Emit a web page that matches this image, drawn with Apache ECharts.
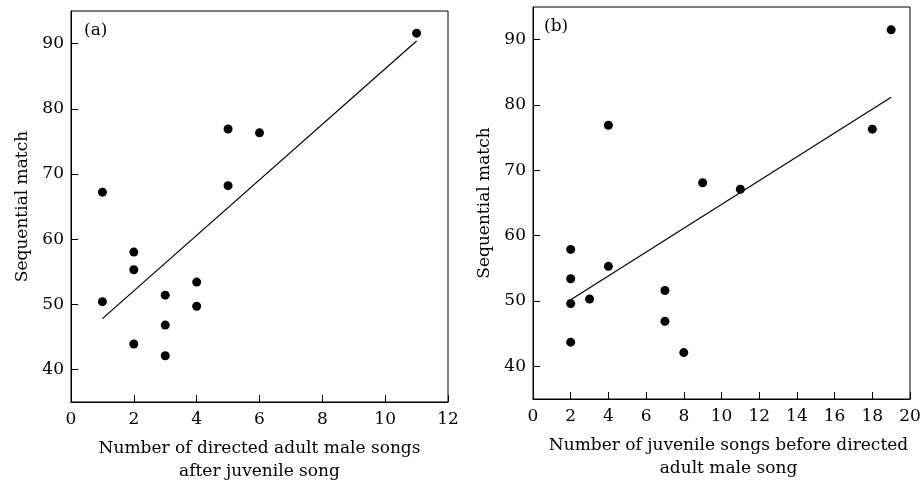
<!DOCTYPE html>
<html>
<head>
<meta charset="utf-8">
<script src="https://cdn.jsdelivr.net/npm/echarts@6/dist/echarts.min.js"></script>
<style>
  html, body { margin: 0; padding: 0; background: #fff; }
  #chart { width: 922px; height: 481px; }
</style>
</head>
<body>
<div id="chart"></div>
<script>
// panel (a): directed adult male songs after juvenile song vs sequential match
var pointsA = [
  [1, 67.2], [1, 50.4], [2, 58.0], [2, 55.3], [2, 43.9],
  [3, 51.4], [3, 46.8], [3, 42.1], [4, 53.4], [4, 49.7],
  [5, 76.9], [5, 68.2], [6, 76.3], [11, 91.6]
];
var fitA = [[1, 47.8], [11, 90.4]];

// panel (b): juvenile songs before directed adult male song
var pointsB = [
  [2, 57.9], [2, 53.4], [2, 49.6], [2, 43.7], [3, 50.3],
  [4, 76.9], [4, 55.3], [7, 51.6], [7, 46.9], [8, 42.1],
  [9, 68.1], [11, 67.1], [18, 76.3], [19, 91.5]
];
var fitB = [[2, 50.2], [19, 81.2]];

var yTicks = [40, 50, 60, 70, 80, 90];
var yRange = [35, 95];
var xRangeA = [0, 12];
var xRangeB = [0, 20];

var ink = '#000';
var font = 'DejaVu Serif';

function xAxisFor(idx, range, name, pad) {
  return {
    gridIndex: idx,
    type: 'value',
    min: range[0],
    max: range[1],
    interval: 2,
    name: name,
    nameLocation: 'middle',
    nameGap: 35,
    nameTextStyle: { color: ink, fontFamily: font, fontSize: 17, lineHeight: 23, padding: pad },
    axisLine: { show: true, lineStyle: { color: ink, width: 1 } },
    axisTick: { show: true, inside: true, length: 7, lineStyle: { color: ink } },
    axisLabel: { color: ink, fontFamily: font, fontSize: 17, margin: 9 },
    splitLine: { show: false }
  };
}

function yAxisFor(idx) {
  return {
    gridIndex: idx,
    type: 'value',
    min: yRange[0],
    max: yRange[1],
    name: 'Sequential match',
    nameLocation: 'middle',
    nameGap: 40,
    nameTextStyle: { color: ink, fontFamily: font, fontSize: 17 },
    axisLine: { show: true, lineStyle: { color: ink, width: 1 } },
    axisTick: { show: true, inside: true, length: 7, customValues: yTicks, lineStyle: { color: ink } },
    axisLabel: { color: ink, fontFamily: font, fontSize: 17, margin: 7, customValues: yTicks },
    splitLine: { show: false }
  };
}

var chart = echarts.init(document.getElementById('chart'));
var option = {
  backgroundColor: '#fff',
  animation: false,
  title: [
    { text: '(a)', left: 79, top: 17, textStyle: { color: ink, fontFamily: font, fontSize: 17, fontWeight: 'normal' } },
    { text: '(b)', left: 539, top: 13, textStyle: { color: ink, fontFamily: font, fontSize: 17, fontWeight: 'normal' } }
  ],
  grid: [
    { left: 71, top: 11, width: 377, height: 391, outerBoundsMode: 'none', show: true, borderColor: ink, borderWidth: 1 },
    { left: 533, top: 7, width: 377, height: 392, outerBoundsMode: 'none', show: true, borderColor: ink, borderWidth: 1 }
  ],
  xAxis: [
    xAxisFor(0, xRangeA, 'Number of directed adult male songs\nafter juvenile song', 0),
    xAxisFor(1, xRangeB, 'Number of juvenile songs before directed\nadult male song', [0, 0, 0, 14])
  ],
  yAxis: [yAxisFor(0), yAxisFor(1)],
  series: [
    {
      type: 'scatter', xAxisIndex: 0, yAxisIndex: 0, data: pointsA,
      symbolSize: 9, itemStyle: { color: ink, opacity: 1 }
    },
    {
      type: 'line', xAxisIndex: 0, yAxisIndex: 0, data: fitA,
      symbol: 'none', lineStyle: { color: ink, width: 1.2 }
    },
    {
      type: 'scatter', xAxisIndex: 1, yAxisIndex: 1, data: pointsB,
      symbolSize: 9, itemStyle: { color: ink, opacity: 1 }
    },
    {
      type: 'line', xAxisIndex: 1, yAxisIndex: 1, data: fitB,
      symbol: 'none', lineStyle: { color: ink, width: 1.2 }
    }
  ]
};
chart.setOption(option);
</script>
</body>
</html>
